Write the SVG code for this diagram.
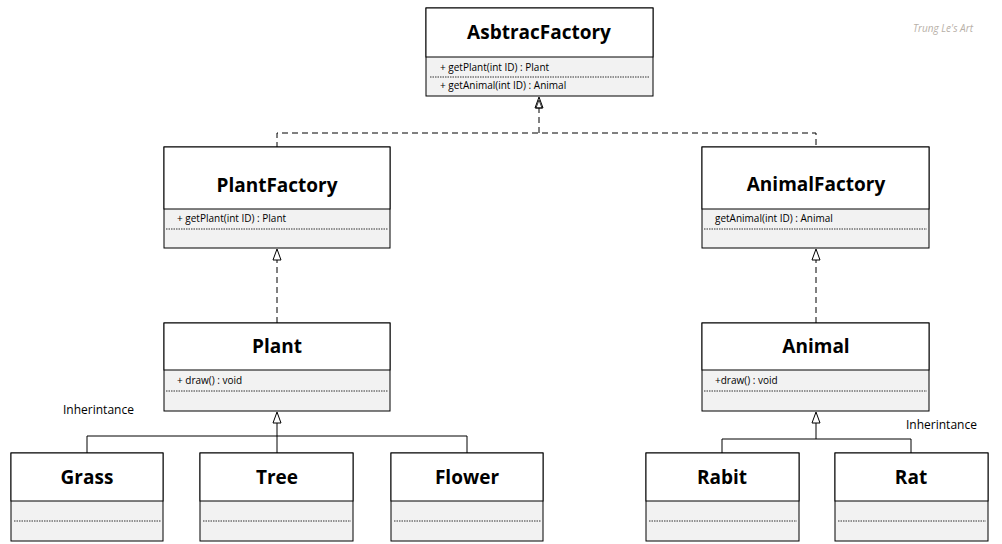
<svg xmlns="http://www.w3.org/2000/svg" width="1002" height="544" viewBox="0 0 1002 544">
<style>
.b{fill:#fff;stroke:#000;stroke-width:1}
.a{fill:#f2f2f2;stroke:#000;stroke-width:1}
.d{stroke:#000;stroke-width:0.8;stroke-dasharray:1.5 1}
.t{font-family:"Open Sans","Liberation Sans",sans-serif;font-weight:bold;font-size:19px;text-anchor:middle}
.m{font-family:"Open Sans","Liberation Sans",sans-serif;font-size:10px}
.l{font-family:"Open Sans","Liberation Sans",sans-serif;font-size:12px}
.c{fill:none;stroke:#000;stroke-width:1}
.cd{fill:none;stroke:#000;stroke-width:1;stroke-dasharray:6 4}
.h{fill:#fff;stroke:#000;stroke-width:1}
</style>
<defs>
<path id="tri" d="M0,0 L4,11 L-4,11 Z"/>
</defs>
<rect width="1002" height="544" fill="#fff"/>
<text x="943" y="32" class="m" font-style="italic" fill="#b8b0a8" text-anchor="middle" font-size="11">Trung Le's Art</text>
<g id="connectors">
<path class="cd" d="M277,148 V133 H816 V148"/>
<path class="cd" d="M539,133 V108"/>
<use href="#tri" class="h" x="539" y="97"/>
<path d="M539,100 l-3,8 h6z" fill="none" stroke="#000" stroke-width="0.8"/>
<path class="cd" d="M277,323 V260"/>
<use href="#tri" class="h" x="277" y="249"/>
<path class="cd" d="M816,323 V260"/>
<use href="#tri" class="h" x="816" y="249"/>
<path class="c" d="M87,453 V436 H467 V453 M277,453 V423"/>
<use href="#tri" class="h" x="277" y="412"/>
<path class="c" d="M722,453 V439 H911 V453 M816,439 V423"/>
<use href="#tri" class="h" x="816" y="412"/>
</g>
<g id="AsbtracFactory">
<rect class="a" x="426" y="8" width="227" height="88"/><rect class="b" x="426" y="8" width="227" height="49"/>
<text class="t" x="539" y="39">AsbtracFactory</text>
<text class="m" x="440" y="71">+ getPlant(int ID) : Plant</text>
<line class="d" x1="430" y1="77" x2="650" y2="77"/>
<text class="m" x="440" y="89">+ getAnimal(int ID) : Animal</text>
</g>
<g id="PlantFactory">
<rect class="a" x="164" y="147" width="226" height="101"/><rect class="b" x="164" y="147" width="226" height="62"/>
<text class="t" x="277" y="192">PlantFactory</text>
<text class="m" x="177" y="222">+ getPlant(int ID) : Plant</text>
<line class="d" x1="166" y1="229" x2="388" y2="229"/>
</g>
<g id="AnimalFactory">
<rect class="a" x="702" y="147" width="227" height="101"/><rect class="b" x="702" y="147" width="227" height="62"/>
<text class="t" x="816" y="191">AnimalFactory</text>
<text class="m" x="715" y="222">getAnimal(int ID) : Animal</text>
<line class="d" x1="704" y1="229" x2="927" y2="229"/>
</g>
<g id="Plant">
<rect class="a" x="164" y="323" width="226" height="88"/><rect class="b" x="164" y="323" width="226" height="47"/>
<text class="t" x="277" y="353">Plant</text>
<text class="m" x="177" y="384">+ draw() : void</text>
<line class="d" x1="166" y1="391" x2="388" y2="391"/>
</g>
<g id="Animal">
<rect class="a" x="702" y="323" width="227" height="88"/><rect class="b" x="702" y="323" width="227" height="47"/>
<text class="t" x="816" y="353">Animal</text>
<text class="m" x="715" y="384">+draw() : void</text>
<line class="d" x1="704" y1="391" x2="927" y2="391"/>
</g>
<text class="l" x="63" y="414">Inherintance</text>
<text class="l" x="906" y="429">Inherintance</text>
<g id="Grass"><rect class="a" x="11" y="453" width="152" height="88"/><rect class="b" x="11" y="453" width="152" height="48"/><text class="t" x="87" y="484">Grass</text><line class="d" x1="14" y1="521" x2="161" y2="521"/></g>
<g id="Tree"><rect class="a" x="200" y="453" width="153" height="88"/><rect class="b" x="200" y="453" width="153" height="48"/><text class="t" x="277" y="484">Tree</text><line class="d" x1="203" y1="521" x2="351" y2="521"/></g>
<g id="Flower"><rect class="a" x="391" y="453" width="152" height="88"/><rect class="b" x="391" y="453" width="152" height="48"/><text class="t" x="467" y="484">Flower</text><line class="d" x1="394" y1="521" x2="541" y2="521"/></g>
<g id="Rabit"><rect class="a" x="646" y="453" width="153" height="88"/><rect class="b" x="646" y="453" width="153" height="48"/><text class="t" x="722" y="484">Rabit</text><line class="d" x1="649" y1="521" x2="797" y2="521"/></g>
<g id="Rat"><rect class="a" x="835" y="453" width="153" height="88"/><rect class="b" x="835" y="453" width="153" height="48"/><text class="t" x="911" y="484">Rat</text><line class="d" x1="838" y1="521" x2="986" y2="521"/></g>
</svg>
